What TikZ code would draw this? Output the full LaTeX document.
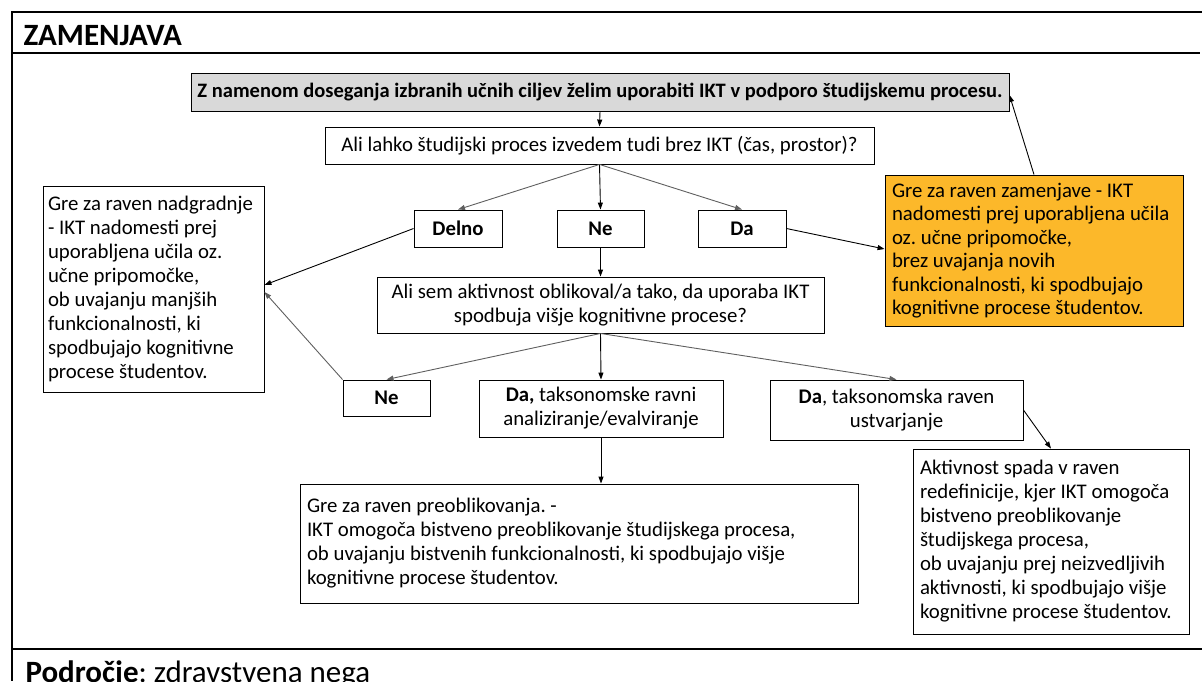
\documentclass[tikz,border=0pt]{standalone}
\usepackage{fontspec}
\setmainfont{Carlito}
\usetikzlibrary{arrows.meta}
\definecolor{boxorange}{RGB}{252,184,42}
\definecolor{boxgray}{RGB}{217,217,217}
\definecolor{linkgray}{RGB}{95,95,95}

\begin{document}
\frenchspacing
\begin{tikzpicture}[x=1pt,y=-1pt,
  every node/.style={font=\frenchspacing\fontsize{20.8}{24}\selectfont},
  box/.style={draw=black,line width=0.9pt,inner xsep=7pt,inner ysep=0pt,align=center},
  tbox/.style={box,align=flush left},
  link/.style={-{Triangle[length=7pt,width=5pt]},line width=0.9pt,draw=#1},
  link/.default=black
]
\useasboundingbox (0,0) rectangle (1202,681);

% table frame
\draw[line width=2.5pt] (1202,12) -- (12,12) -- (12,681);
\draw[line width=1.4pt] (12,53) -- (1200,53);
\draw[line width=1.4pt] (12,649) -- (1202,649);

\node[anchor=base west,font=\fontsize{31}{36}\selectfont\bfseries] (title) at (20,45) {ZAMENJAVA};
\node[anchor=base west,font=\frenchspacing\fontsize{31}{36}\selectfont] (foot) at (22,682) {\textbf{Področje}: zdravstvena nega};

% decision flow
\node[box,fill=boxgray,inner xsep=5pt,minimum width=818pt,minimum height=38pt,font=\frenchspacing\fontsize{20.5}{24}\selectfont] (G) at (600,92)
  {\textbf{Z namenom doseganja izbranih učnih ciljev želim uporabiti IKT v podporo študijskemu procesu.}};
\node[box,minimum width=549pt,minimum height=37pt] (Q1) at (599.5,145.5)
  {Ali lahko študijski proces izvedem tudi brez IKT (čas, prostor)?};

\node[box,minimum width=88pt,minimum height=37pt] (delno) at (458,228.5) {\textbf{Delno}};
\node[box,minimum width=87pt,minimum height=37pt] (ne1) at (600.5,228.5) {\textbf{Ne}};
\node[box,minimum width=88pt,minimum height=37pt] (da1) at (742,228.5) {\textbf{Da}};

\node[tbox,inner xsep=5pt,text width=211pt,minimum height=206pt] (L) at (153.5,289)
  {Gre za raven nadgradnje\\- IKT nadomesti prej\\uporabljena učila oz.\\učne pripomočke,\\ob uvajanju manjših\\funkcionalnosti, ki\\spodbujajo kognitivne\\procese študentov.};

\node[tbox,fill=boxorange,text width=284pt,minimum height=151pt,font=\frenchspacing\fontsize{20.8}{23.5}\selectfont] (O) at (1034,250.5)
  {Gre za raven zamenjave - IKT\\nadomesti prej uporabljena učila\\oz. učne pripomočke,\\brez uvajanja novih\\funkcionalnosti, ki spodbujajo\\kognitivne procese študentov.};

\node[box,minimum width=447pt,minimum height=56pt] (Q2) at (600.5,305)
  {Ali sem aktivnost oblikoval/a tako, da uporaba IKT\\spodbuja višje kognitivne procese?};

\node[box,minimum width=87pt,minimum height=36pt] (ne2) at (386.5,398) {\textbf{Ne}};
\node[box,minimum width=244pt,minimum height=57pt] (da2) at (601,408.5)
  {\textbf{Da,} taksonomske ravni\\analiziranje/evalviranje};
\node[box,minimum width=253pt,minimum height=60pt] (da3) at (896.5,410)
  {\textbf{Da}, taksonomska raven\\ustvarjanje};

\node[tbox,text width=544pt,minimum height=119pt] (P) at (579,543.5)
  {Gre za raven preoblikovanja. -\\IKT omogoča bistveno preoblikovanje študijskega procesa,\\ob uvajanju bistvenih funkcionalnosti, ki spodbujajo višje\\kognitivne procese študentov.};
\node[tbox,text width=262pt,minimum height=185pt] (R) at (1051,541.5)
  {Aktivnost spada v raven\\redefinicije, kjer IKT omogoča\\bistveno preoblikovanje\\študijskega procesa,\\ob uvajanju prej neizvedljivih\\aktivnosti, ki spodbujajo višje\\kognitivne procese študentov.};

% connectors
\draw[link] (G.south) -- (Q1.north);
\draw[link=linkgray] (Q1.south) -- (delno.north);
\draw[link] (Q1.south) -- (ne1.north);
\draw[link=linkgray] (Q1.south) -- (da1.north);
\draw[link] (delno.west) -- ([yshift=4pt]L.east);
\draw[link] (da1.east) -- ([yshift=1.5pt]O.west);
\draw[link] (O.north) -- ([yshift=-3pt]G.east);
\draw[link] (ne1.south) -- (Q2.north);
\draw[link=linkgray] (Q2.south) -- (ne2.north);
\draw[link] (Q2.south) -- (da2.north);
\draw[link=linkgray] (Q2.south) -- (da3.north);
\draw[link=linkgray] (ne2.north west) -- ([yshift=-3pt]L.east);
\draw[link] (da2.south) -- (da2.south |- P.north);
\draw[link] (da3.east) -- (R.north);
\end{tikzpicture}
\end{document}
